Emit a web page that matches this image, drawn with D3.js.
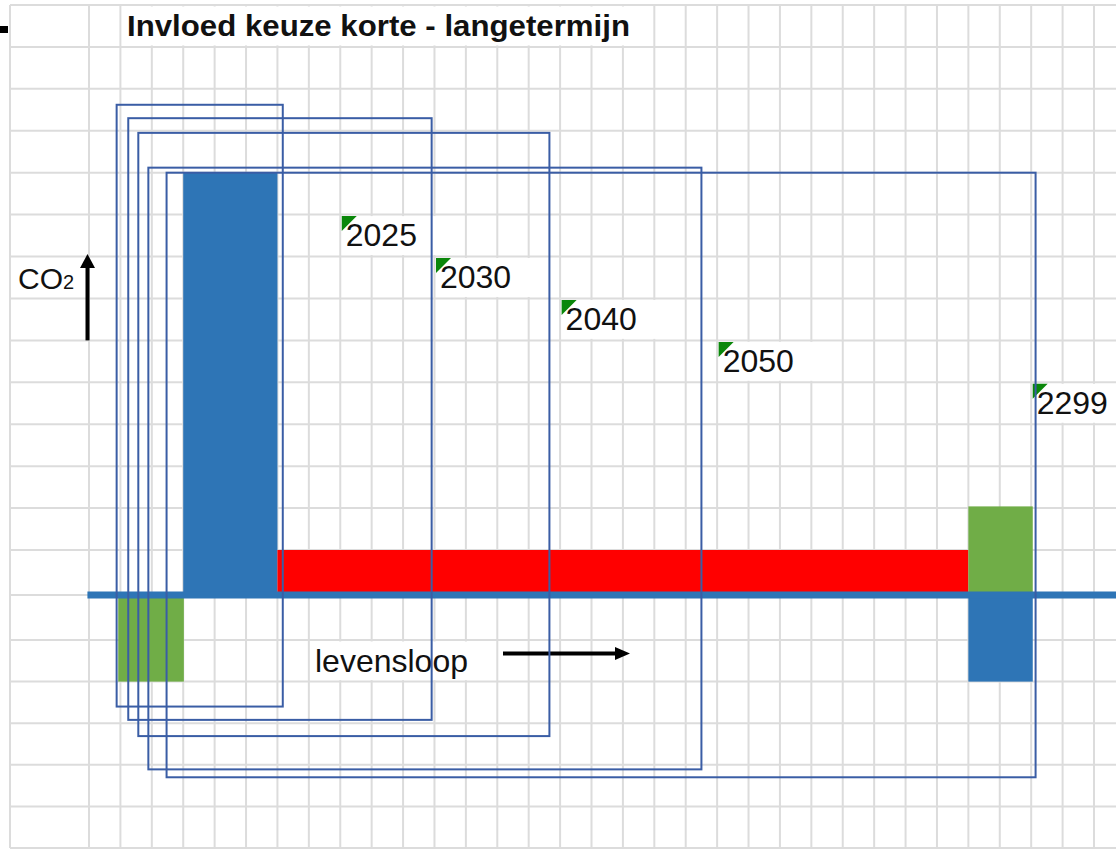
<!DOCTYPE html>
<html>
<head>
<meta charset="utf-8">
<script src="https://cdn.jsdelivr.net/npm/d3@7"></script>
<style>
  body { margin: 0; background: #fff; }
  svg { display: block; font-family: "Liberation Sans", Arial, sans-serif; }
</style>
</head>
<body>
<svg></svg>
<script>
// all values are in spreadsheet grid units (column, row)
let years = ["2025", "2030", "2040", "2050", "2299"]
let frameX0 = [1.88, 2.25, 2.57, 2.89, 3.47]
let frameX1 = [7.17, 11.91, 15.66, 20.5, 31.14]
let frameY0 = [2.38, 2.7, 3.05, 3.88, 4.0]
let frameY1 = [16.6, 16.92, 17.31, 18.11, 18.3]
let labelCol = [9, 12, 16, 21, 31]
let labelRow = [5, 6, 7, 8, 9]
let labelSpan = [3, 3, 3, 3, 3]

let blockKind = ["uitstoot", "vastlegging", "gebruik", "vastlegging", "uitstoot"]
let blockX0 = [4, 1.93, 7, 29, 29]
let blockX1 = [7, 4.02, 29, 31.05, 31.05]
let blockY0 = [4, 14, 13, 11.96, 14]
let blockY1 = [14, 16, 14, 14, 16]

let axisRow = 14
let title = "Invloed keuze korte - langetermijn"

let width = 1116
let height = 849

let svg = d3.select("svg")
    .attr("width", width)
    .attr("height", height)

let x = d3.scaleLinear().domain([0, 1, 33]).range([10, 89, 1094])
let y = d3.scaleLinear().domain([0, 13, 15, 20]).range([5, 550, 640, 848])

let color = d3.scaleOrdinal()
    .domain(["uitstoot", "vastlegging", "gebruik"])
    .range(["#2e75b6", "#70ad47", "#ff0000"])

// grid
let grid = svg.append("g")
    .attr("stroke", "#dcdcdc")
    .attr("stroke-width", 2)
grid.selectAll(".v")
    .data(d3.range(0, 35))
    .enter()
    .append("line")
    .attr("x1", (c) => x(c))
    .attr("x2", (c) => x(c))
    .attr("y1", y(0))
    .attr("y2", y(20))
grid.selectAll(".h")
    .data(d3.range(0, 21))
    .enter()
    .append("line")
    .attr("x1", x(0))
    .attr("x2", width)
    .attr("y1", (r) => y(r))
    .attr("y2", (r) => y(r))

// overflowing text cells hide the grid lines between them
let cells = [[2, 19, 0], [8, 14, 15]].concat(labelCol.map((c, i) => [c, c + labelSpan[i] + 1, labelRow[i]]))
svg.append("g")
    .selectAll("rect")
    .data(cells)
    .enter()
    .append("rect")
    .attr("x", (d) => x(d[0]) + 1.5)
    .attr("width", (d) => x(d[1]) - x(d[0]) - 3)
    .attr("y", (d) => y(d[2]) + 1.5)
    .attr("height", (d) => y(d[2] + 1) - y(d[2]) - 3)
    .attr("fill", "#fff")

svg.append("rect")
    .attr("x", 0).attr("y", 26).attr("width", 8).attr("height", 7)
    .attr("fill", "#000")

// blocks
svg.append("g")
    .selectAll("rect")
    .data(blockKind)
    .enter()
    .append("rect")
    .attr("x", (d, i) => x(blockX0[i]))
    .attr("width", (d, i) => x(blockX1[i]) - x(blockX0[i]))
    .attr("y", (d, i) => y(blockY0[i]))
    .attr("height", (d, i) => y(blockY1[i]) - y(blockY0[i]))
    .attr("fill", (d) => color(d))

// time axis
svg.append("line")
    .attr("x1", x(0.98))
    .attr("x2", width)
    .attr("y1", y(axisRow))
    .attr("y2", y(axisRow))
    .attr("stroke", "#2e75b6")
    .attr("stroke-width", 7)

// title
svg.append("text")
    .attr("x", 127)
    .attr("y", 36)
    .attr("font-size", 30)
    .attr("font-weight", "bold")
    .attr("textLength", 503)
    .attr("lengthAdjust", "spacingAndGlyphs")
    .attr("fill", "#111")
    .text(title)

// year labels with comment markers
let labels = svg.append("g")
    .selectAll("g")
    .data(years)
    .enter()
    .append("g")
    .attr("transform", (d, i) => "translate(" + x(labelCol[i]) + "," + y(labelRow[i]) + ")")
labels.append("path")
    .attr("d", "M1.5,1.5H16.5L1.5,16.5Z")
    .attr("fill", "#0a870a")
labels.append("text")
    .attr("x", 5.5)
    .attr("y", 31.5)
    .attr("font-size", 32)
    .attr("fill", "#111")
    .text((d) => d)

// CO2 label and arrow
let co = svg.append("text")
    .attr("x", 18)
    .attr("y", 289)
    .attr("font-size", 30)
    .attr("fill", "#111")
co.append("tspan").text("CO")
co.append("tspan").attr("font-size", 20).text("2")

svg.append("line")
    .attr("x1", 87.5).attr("x2", 87.5)
    .attr("y1", y(8)).attr("y2", 265)
    .attr("stroke", "#000").attr("stroke-width", 4)
svg.append("path")
    .attr("d", "M80,268L95,268L87.5,254Z")
    .attr("fill", "#000")

svg.append("text")
    .attr("x", 315)
    .attr("y", 672)
    .attr("font-size", 32)
    .attr("fill", "#111")
    .text("levensloop")

svg.append("line")
    .attr("x1", 503).attr("x2", 618)
    .attr("y1", 653.5).attr("y2", 653.5)
    .attr("stroke", "#000").attr("stroke-width", 4)
svg.append("path")
    .attr("d", "M615,647L630,653.5L615,660Z")
    .attr("fill", "#000")

// frames
svg.append("g")
    .selectAll("rect")
    .data(years)
    .enter()
    .append("rect")
    .attr("x", (d, i) => x(frameX0[i]))
    .attr("width", (d, i) => x(frameX1[i]) - x(frameX0[i]))
    .attr("y", (d, i) => y(frameY0[i]))
    .attr("height", (d, i) => y(frameY1[i]) - y(frameY0[i]))
    .attr("fill", "none")
    .attr("stroke", "#3a5da5")
    .attr("stroke-width", 2)
</script>
</body>
</html>
